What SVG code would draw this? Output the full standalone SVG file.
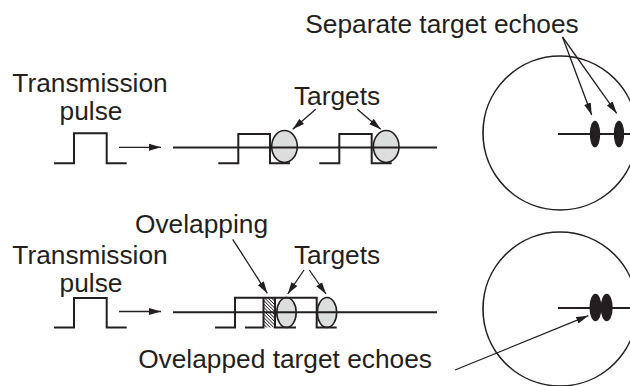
<svg xmlns="http://www.w3.org/2000/svg" width="630" height="386" viewBox="0 0 630 386">
<style>
text{font-family:"Liberation Sans",Arial,sans-serif;font-size:26.3px;fill:#231f20}
.w{fill:none;stroke:#231f20;stroke-width:2}
.c{fill:none;stroke:#231f20;stroke-width:1.6}
.e{fill:#dcdddd;stroke:#231f20;stroke-width:1.6}
.b{fill:#231f20;stroke:none}
.a{fill:none;stroke:#231f20;stroke-width:1.3;marker-end:url(#ah)}
</style>
<defs>
<marker id="ah" markerWidth="12" markerHeight="8" refX="12" refY="4" orient="auto" markerUnits="userSpaceOnUse"><path d="M0,0.5 L12,4 L0,7.5 z" fill="#231f20"/></marker>
<pattern id="hatch" width="2.4" height="2.4" patternUnits="userSpaceOnUse" patternTransform="rotate(-45)"><rect width="2.4" height="2.4" fill="#fff"/><line x1="0" y1="0" x2="0" y2="2.4" stroke="#231f20" stroke-width="1.6"/></pattern>
</defs>
<g id="top-label"><text x="90" y="92" text-anchor="middle">Transmission</text><text x="91" y="120" text-anchor="middle">pulse</text></g>
<g id="top-pulse"><path class="w" d="M54,163.3 H74 V133.3 H106.7 V163.3 H126.7"/></g>
<g id="top-targets-label"><text x="337" y="105" text-anchor="middle">Targets</text></g>
<g id="top-echoes">
<ellipse class="e" cx="284.5" cy="146.5" rx="12.8" ry="16"/>
<ellipse class="e" cx="386.2" cy="146.5" rx="12.8" ry="16"/>
<path class="w" d="M218.3,163.3 H238.3 V134 H270 V163.3 H290"/>
<path class="w" d="M319.3,163.3 H339.3 V134 H371.7 V163.3 H391.7"/>
<line class="w" x1="173" y1="147.5" x2="437" y2="147.5"/>
</g>
<g id="top-scope">
<circle class="c" cx="560" cy="133" r="77"/>
<line class="w" x1="558" y1="134" x2="630" y2="134"/>
<ellipse class="b" cx="595" cy="134" rx="5.2" ry="13.3"/>
<ellipse class="b" cx="619" cy="134" rx="5.2" ry="13.3"/>
</g>
<g id="separate-label"><text x="442" y="33" text-anchor="middle">Separate target echoes</text></g>
<g id="bottom-label"><text x="90" y="264" text-anchor="middle">Transmission</text><text x="91" y="292" text-anchor="middle">pulse</text></g>
<g id="bottom-pulse"><path class="w" d="M54,327.5 H74 V298 H106.7 V327.5 H126.7"/></g>
<g id="overlap-label"><text x="135" y="233">Ovelapping</text></g>
<g id="bottom-targets-label"><text x="337" y="264" text-anchor="middle">Targets</text></g>
<g id="bottom-echoes">
<rect x="263.5" y="297.7" width="11.5" height="29.8" fill="url(#hatch)"/>
<ellipse class="e" cx="286.5" cy="312.5" rx="9.7" ry="15"/>
<ellipse class="e" cx="327" cy="312.5" rx="9.7" ry="15"/>
<path class="w" d="M215,327.5 H235 V297.7 H316.7 V327.5 H336.7"/>
<path class="w" d="M245,327.5 H263.5 V297.7"/>
<path class="w" d="M275,297.7 V327.5 H296"/>
<line class="w" x1="173" y1="312.3" x2="437" y2="312.3"/>
</g>
<g id="bottom-scope">
<circle class="c" cx="560" cy="309" r="77"/>
<line class="w" x1="558" y1="308" x2="630" y2="308"/>
<ellipse class="b" cx="595.5" cy="307.5" rx="6" ry="13.7"/>
<ellipse class="b" cx="606.7" cy="307.5" rx="6" ry="13.7"/>
</g>
<g id="overlapped-label"><text x="432" y="368" text-anchor="end">Ovelapped target echoes</text></g>
<g id="connectors">
<line class="a" x1="119" y1="147.3" x2="161" y2="147.3"/>
<line class="a" x1="119" y1="311.5" x2="161" y2="311.5"/>
<line class="a" x1="315.7" y1="109.3" x2="292.7" y2="129.3"/>
<line class="a" x1="357.3" y1="109.3" x2="380.7" y2="129.3"/>
<line class="a" x1="562.5" y1="37" x2="591.7" y2="115"/>
<line class="a" x1="562.5" y1="37" x2="616.7" y2="113.3"/>
<line class="a" x1="232.7" y1="239.3" x2="267.3" y2="293.3"/>
<line class="a" x1="304" y1="270" x2="287.7" y2="294"/>
<line class="a" x1="309.3" y1="270" x2="326" y2="294"/>
<line class="a" x1="455" y1="370" x2="588.3" y2="315.7"/>
</g>
</svg>
